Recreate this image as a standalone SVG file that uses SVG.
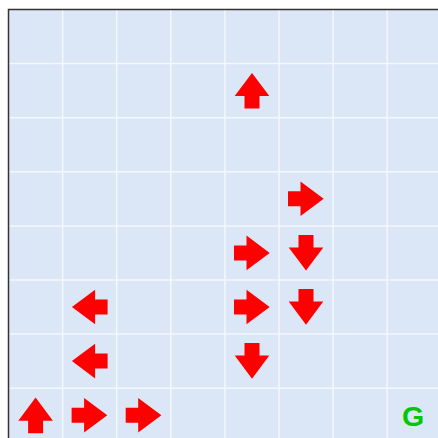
<svg xmlns="http://www.w3.org/2000/svg" width="438" height="438" viewBox="0 0 438 438">
<defs>
<style>
.grid line{stroke:#f4f7fc;stroke-width:1.5}
.arrow{fill:#ff0000}
.goal{font-family:"Liberation Sans",Arial,sans-serif;font-weight:bold;font-size:28.5px;fill:#00c800;text-anchor:middle}
</style>
<path id="arr" d="M-18,-7.5 L-5.5,-7.5 L-5.5,-17.3 L17.7,0 L-5.5,17.3 L-5.5,7.5 L-18,7.5 Z"/>
</defs>
<rect x="0" y="0" width="438" height="438" fill="#ffffff"/>
<rect x="8.5" y="9.5" width="440" height="440" fill="#dbe6f7"/>
<g class="grid">
<line x1="62.6" y1="9.5" x2="62.6" y2="438"/>
<line x1="116.7" y1="9.5" x2="116.7" y2="438"/>
<line x1="170.8" y1="9.5" x2="170.8" y2="438"/>
<line x1="224.9" y1="9.5" x2="224.9" y2="438"/>
<line x1="279" y1="9.5" x2="279" y2="438"/>
<line x1="333.1" y1="9.5" x2="333.1" y2="438"/>
<line x1="387.2" y1="9.5" x2="387.2" y2="438"/>
<line x1="8.5" y1="63.6" x2="438" y2="63.6"/>
<line x1="8.5" y1="117.7" x2="438" y2="117.7"/>
<line x1="8.5" y1="171.8" x2="438" y2="171.8"/>
<line x1="8.5" y1="225.9" x2="438" y2="225.9"/>
<line x1="8.5" y1="280" x2="438" y2="280"/>
<line x1="8.5" y1="334.1" x2="438" y2="334.1"/>
<line x1="8.5" y1="388.2" x2="438" y2="388.2"/>
</g>
<path d="M8.5,438 L8.5,9.5 L438,9.5" fill="none" stroke="#333333" stroke-width="1.5"/>
<g id="connectors"></g>
<g id="a-4-1" class="arrow"><use href="#arr" transform="translate(252,90.6) rotate(-90)"/></g>
<g id="a-5-3" class="arrow"><use href="#arr" transform="translate(306,198.8)"/></g>
<g id="a-4-4" class="arrow"><use href="#arr" transform="translate(252,252.9)"/></g>
<g id="a-5-4" class="arrow"><use href="#arr" transform="translate(306,252.9) rotate(90)"/></g>
<g id="a-1-5" class="arrow"><use href="#arr" transform="translate(89.6,307) rotate(180)"/></g>
<g id="a-4-5" class="arrow"><use href="#arr" transform="translate(252,307)"/></g>
<g id="a-5-5" class="arrow"><use href="#arr" transform="translate(306,307) rotate(90)"/></g>
<g id="a-1-6" class="arrow"><use href="#arr" transform="translate(89.6,361.1) rotate(180)"/></g>
<g id="a-4-6" class="arrow"><use href="#arr" transform="translate(252,361.1) rotate(90)"/></g>
<g id="a-0-7" class="arrow"><use href="#arr" transform="translate(35.6,415.3) rotate(-90)"/></g>
<g id="a-1-7" class="arrow"><use href="#arr" transform="translate(89.6,415.3)"/></g>
<g id="a-2-7" class="arrow"><use href="#arr" transform="translate(143.7,415.3)"/></g>
<g id="goal"><text class="goal" x="413" y="425.8">G</text></g>
</svg>
